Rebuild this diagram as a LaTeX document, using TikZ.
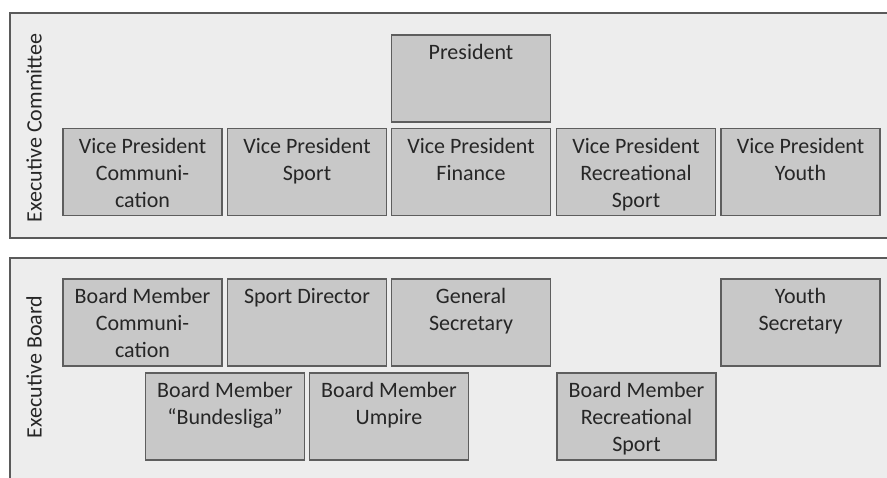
\documentclass[tikz,border=0pt]{standalone}
\usepackage{fontspec}
\setmainfont{Carlito}
\definecolor{panelfill}{HTML}{EDEDED}
\definecolor{panelline}{HTML}{5A5A5A}
\definecolor{boxfill}{HTML}{C8C8C8}
\definecolor{boxline}{HTML}{5E5E5E}
\definecolor{txtcol}{HTML}{262626}
\newcommand{\firststrut}{\rule{0pt}{16pt}}
\tikzset{
  panel/.style={fill=panelfill, draw=panelline, line width=1.4pt},
  orgbox/.style={rectangle, fill=boxfill, draw=boxline, line width=1.3pt,
    minimum width=159pt, minimum height=87pt, inner sep=0pt},
  boxtext/.style={anchor=north, inner sep=0pt, align=center, text=txtcol,
    font=\fontsize{22}{27}\selectfont},
  sidelabel/.style={rotate=90, anchor=center, inner sep=0pt, text=txtcol,
    font=\fontsize{22}{27}\selectfont}
}
\begin{document}
\begin{tikzpicture}[x=1pt,y=-1pt]
\useasboundingbox (0,0) rectangle (887,477);
\clip (0,0) rectangle (887,477);
\fill[white] (0,0) rectangle (887,477);
% panels
\draw[panel] (10,13) rectangle (900,238);
\draw[panel] (10,258) rectangle (900,490);
\node[sidelabel] (lblcomm) at (34,128) {Executive Committee};
\node[sidelabel] (lblboard) at (34,367) {Executive Board};
% executive committee
\node[orgbox] (pres) at (471,78.5) {};
\node[orgbox] (vpcomm) at (142.5,172) {};
\node[orgbox] (vpsport) at (307,172) {};
\node[orgbox] (vpfin) at (471,172) {};
\node[orgbox] (vprec) at (636,172) {};
\node[orgbox] (vpyouth) at (800.5,172) {};
\node[boxtext] (tpres) at ([yshift=-9pt]pres.north) {\firststrut President};
\node[boxtext] (tvpcomm) at ([yshift=-9pt]vpcomm.north) {\firststrut Vice President\\Communi-\\cation};
\node[boxtext] (tvpsport) at ([yshift=-9pt]vpsport.north) {\firststrut Vice President\\Sport};
\node[boxtext] (tvpfin) at ([yshift=-9pt]vpfin.north) {\firststrut Vice President\\Finance};
\node[boxtext] (tvprec) at ([yshift=-9pt]vprec.north) {\firststrut Vice President\\Recreational\\Sport};
\node[boxtext] (tvpyouth) at ([yshift=-9pt]vpyouth.north) {\firststrut Vice President\\Youth};
% executive board
\node[orgbox] (bmcomm) at (142.5,322.5) {};
\node[orgbox] (sportdir) at (307,322.5) {};
\node[orgbox] (gensec) at (471,322.5) {};
\node[orgbox] (youthsec) at (800.5,322.5) {};
\node[orgbox] (bmbund) at (225,416.5) {};
\node[orgbox] (bmump) at (389,416.5) {};
\node[orgbox] (bmrec) at (636.5,416.5) {};
\node[boxtext] (tbmcomm) at ([yshift=-9pt]bmcomm.north) {\firststrut Board Member\\Communi-\\cation};
\node[boxtext] (tsportdir) at ([yshift=-9pt]sportdir.north) {\firststrut Sport Director};
\node[boxtext] (tgensec) at ([yshift=-9pt]gensec.north) {\firststrut General\\Secretary};
\node[boxtext] (tyouthsec) at ([yshift=-9pt]youthsec.north) {\firststrut Youth\\Secretary};
\node[boxtext] (tbmbund) at ([yshift=-9pt]bmbund.north) {\firststrut Board Member\\“Bundesliga”};
\node[boxtext] (tbmump) at ([yshift=-9pt]bmump.north) {\firststrut Board Member\\Umpire};
\node[boxtext] (tbmrec) at ([yshift=-9pt]bmrec.north) {\firststrut Board Member\\Recreational\\Sport};
\end{tikzpicture}
\end{document}
